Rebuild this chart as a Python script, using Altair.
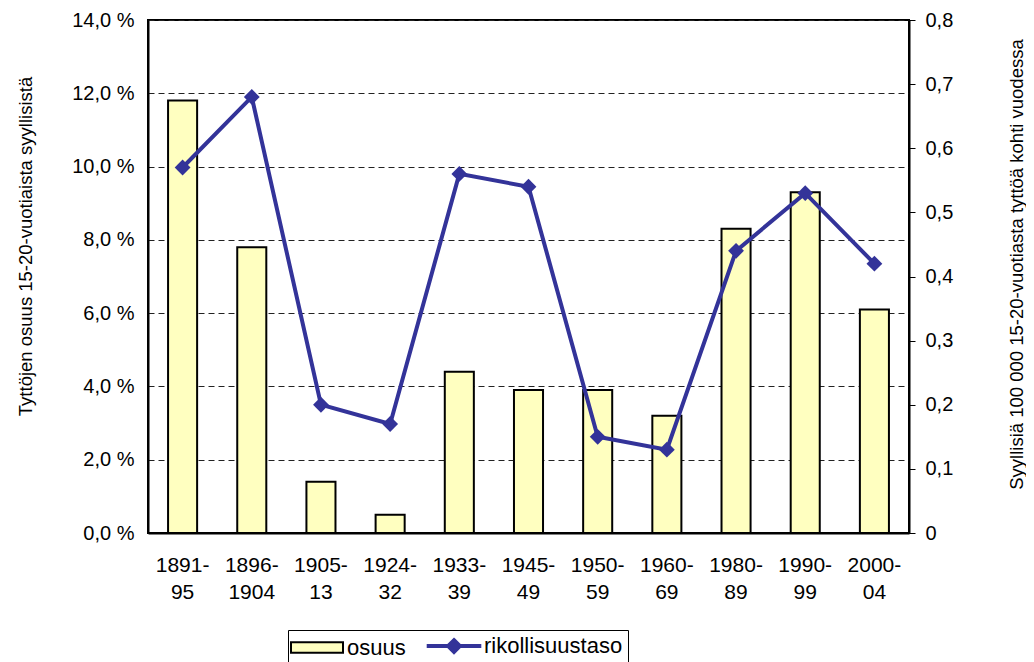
import altair as alt
import pandas as pd

periods = ["1891-95", "1896-1904", "1905-13", "1924-32", "1933-39", "1945-49",
           "1950-59", "1960-69", "1980-89", "1990-99", "2000-04"]
osuus = [11.8, 7.8, 1.4, 0.5, 4.4, 3.9, 3.9, 3.2, 8.3, 9.3, 6.1]
rikollisuustaso = [0.57, 0.68, 0.20, 0.17, 0.56, 0.54, 0.15, 0.13, 0.44, 0.53, 0.42]
left_ticks = [0, 2, 4, 6, 8, 10, 12, 14]
right_ticks = [0, 0.1, 0.2, 0.3, 0.4, 0.5, 0.6, 0.7, 0.8]
series_names = ["osuus", "rikollisuustaso"]

left_title = "Tyttöjen osuus 15-20-vuotiaista syyllisistä"
right_title = "Syyllisiä 100 000 15-20-vuotiasta tyttöä kohti vuodessa"

df = pd.DataFrame({"period": periods, "osuus": osuus, "rikollisuustaso": rikollisuustaso})

FONT = "Liberation Sans"
BAR_FILL = "#FFFFC0"
LINE = "#333399"
TICK_FS = 20
XLAB_FS = 21
TITLE_FS = 18.5
LEG_FS = 22

x = alt.X(
    "period:N", sort=periods, title=None,
    scale=alt.Scale(paddingInner=0.58, paddingOuter=0.29),
    axis=alt.Axis(
        labelAngle=0, ticks=False, tickSize=0, labelPadding=21, labelFontSize=XLAB_FS,
        labelLineHeight=27, labelColor="black", labelFont=FONT,
        labelExpr="[split(datum.label, '-')[0] + '-', split(datum.label, '-')[1]]",
        domainColor="black", domainWidth=2,
    ),
)

legend = alt.Legend(
    title=None, orient="none", legendX=140, legendY=610, direction="horizontal",
    strokeColor="black", padding=5, symbolSize=676, labelFontSize=LEG_FS, labelFont=FONT,
    labelColor="black", columnPadding=12, labelOffset=19, symbolOffset=13,
    symbolType={"expr": "datum.value === 'osuus' ? 'M-2,-0.4H2V0.4H-2Z' : 'M-2.1,0H2.1M0,-0.45L0.45,0L0,0.45L-0.45,0Z'"},
    symbolStrokeWidth={"expr": "datum.value === 'osuus' ? 2 : 4"},
    symbolOpacity=1,
)
fill_scale = alt.Scale(domain=series_names, range=[BAR_FILL, LINE])
stroke_scale = alt.Scale(domain=series_names, range=["black", LINE])

base = alt.Chart(df)

bars = base.transform_calculate(series="'osuus'").mark_bar(
    strokeWidth=2, opacity=1
).encode(
    x=x,
    y=alt.Y(
        "osuus:Q", scale=alt.Scale(domain=[0, 14], nice=False),
        axis=alt.Axis(
            values=left_ticks, title=left_title, orient="left",
            labelExpr="replace(format(datum.value, '.1f'), '.', ',') + ' %'",
            labelFontSize=TICK_FS, labelFont=FONT, labelColor="black",
            ticks=False, tickSize=0, labelPadding=14,
            grid=True, gridDash=[6, 4], gridColor="#222222", gridWidth=1,
            domainColor="black", domainWidth=2,
            titleFontSize=TITLE_FS, titleFont=FONT, titleFontWeight="normal", titleColor="black",
            titleAngle=270, titleX=-123, titleY=226, titleAlign="center", titleBaseline="middle",
        ),
    ),
    color=alt.Color("series:N", scale=fill_scale, legend=legend),
    stroke=alt.Stroke("series:N", scale=stroke_scale, legend=legend),
)

line = base.mark_line(
    strokeWidth=4, color=LINE,
    point=alt.OverlayMarkDef(shape="diamond", size=250, filled=True, color=LINE, opacity=1),
).encode(
    x=x,
    y=alt.Y(
        "rikollisuustaso:Q", scale=alt.Scale(domain=[0, 0.8], nice=False),
        axis=alt.Axis(
            values=right_ticks, title=right_title, orient="right",
            labelExpr="datum.value == 0 ? '0' : replace(format(datum.value, '.1f'), '.', ',')",
            labelFontSize=TICK_FS, labelFont=FONT, labelColor="black",
            ticks=True, tickSize=6, tickColor="black", tickWidth=1, labelPadding=10,
            grid=False, domainColor="black", domainWidth=2,
            titleFontSize=TITLE_FS, titleFont=FONT, titleFontWeight="normal", titleColor="black",
            titleAngle=270, titleX=107, titleY=244, titleAlign="center", titleBaseline="middle",
        ),
    ),
)

chart = alt.layer(bars, line).resolve_scale(y="independent").properties(
    width=761, height=513,
    autosize=alt.AutoSizeParams(type="none"),
    padding={"left": 140, "top": 12, "right": 117, "bottom": 129},
).configure(font=FONT).configure_view(stroke="black", strokeWidth=2)

chart.save("out.html", embed_options={"renderer": "svg", "actions": False})
